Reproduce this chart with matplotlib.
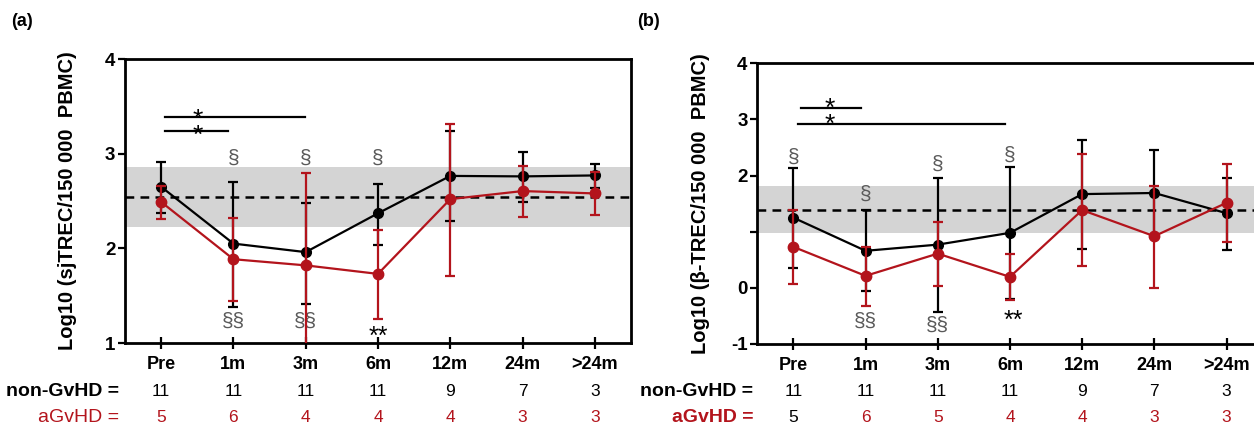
import matplotlib
matplotlib.use("Agg")
import matplotlib.pyplot as plt
import matplotlib.transforms as mtransforms

plt.rcParams['font.family'] = ['Liberation Sans', 'DejaVu Sans']

categories = ["Pre", "1m", "3m", "6m", "12m", "24m", ">24m"]

# Panel (a): sjTREC
a_non_mean = [2.65, 2.05, 1.96, 2.37, 2.765, 2.76, 2.77]
a_non_hi = [2.91, 2.70, 2.48, 2.68, 3.24, 3.015, 2.89]
a_non_lo = [2.37, 1.385, 1.41, 2.04, 2.29, 2.49, 2.64]
a_agv_mean = [2.49, 1.885, 1.82, 1.73, 2.52, 2.605, 2.58]
a_agv_hi = [2.66, 2.32, 2.80, 2.19, 3.31, 2.87, 2.81]
a_agv_lo = [2.31, 1.44, 0.80, 1.25, 1.71, 2.33, 2.35]
a_band = (2.226, 2.86)
a_ref = 2.54
a_n_non = [11, 11, 11, 11, 9, 7, 3]
a_n_agv = [5, 6, 4, 4, 4, 3, 3]

# Panel (b): beta-TREC
b_non_mean = [1.25, 0.66, 0.77, 0.98, 1.67, 1.69, 1.33]
b_non_hi = [2.13, 1.385, 1.95, 2.146, 2.63, 2.455, 1.96]
b_non_lo = [0.35, -0.05, -0.43, -0.20, 0.69, 0.92, 0.67]
b_agv_mean = [0.73, 0.214, 0.61, 0.196, 1.385, 0.92, 1.515]
b_agv_hi = [1.385, 0.73, 1.18, 0.595, 2.38, 1.81, 2.20]
b_agv_lo = [0.06, -0.32, 0.035, -0.21, 0.39, 0.0, 0.81]
b_band = (0.97, 1.81)
b_ref = 1.39
b_n_non = [11, 11, 11, 11, 9, 7, 3]
b_n_agv = [5, 6, 5, 4, 4, 3, 3]

RED = '#B3141C'
GRAY_SYM = '#5a5a5a'

fig = plt.figure(figsize=(12.54, 4.29), dpi=100)
W, H = 1254, 429

def px_axes(left, right, top, bottom):
    return fig.add_axes([left / W, (H - bottom) / H, (right - left) / W, (bottom - top) / H])

ax_a = px_axes(125, 631, 59, 343)
ax_b = px_axes(757.3, 1262.6, 63.3, 344)

def draw_panel(ax, non_mean, non_lo, non_hi, agv_mean, agv_lo, agv_hi, band, ref, ylim, yticks, yticklabels, ylabel):
    x = list(range(len(categories)))
    ax.axhspan(band[0], band[1], color='#d4d4d4', zorder=0, lw=0)
    ax.axhline(ref, color='black', ls=(0, (3.5, 2.5)), lw=1.8, zorder=1)
    e1 = [[m - l for m, l in zip(non_mean, non_lo)], [h - m for m, h in zip(non_mean, non_hi)]]
    e2 = [[m - l for m, l in zip(agv_mean, agv_lo)], [h - m for m, h in zip(agv_mean, agv_hi)]]
    ax.errorbar(x, non_mean, yerr=e1, color='black', marker='o', ms=7, lw=1.6,
                elinewidth=1.6, capsize=3.5, capthick=1.6, zorder=3)
    ax.errorbar(x, agv_mean, yerr=e2, color=RED, marker='o', ms=7.5, lw=1.6,
                elinewidth=1.6, capsize=3.5, capthick=1.6, zorder=4)
    ax.set_xlim(-0.5, 6.5)
    ax.set_ylim(*ylim)
    ax.set_xticks(x)
    ax.set_xticklabels(categories, fontsize=13, fontweight='bold')
    ax.set_yticks(yticks)
    ax.set_yticklabels(yticklabels, fontsize=13.5, fontweight='bold')
    ax.tick_params(axis='x', direction='inout', length=9, width=1.6, pad=5)
    ax.tick_params(axis='y', direction='out', length=5, width=1.6, pad=2)
    for s in ax.spines.values():
        s.set_linewidth(2.0)
    ax.set_ylabel(ylabel, fontsize=14.5, fontweight='bold')
    ax.yaxis.set_label_coords(-0.094, 0.5)

draw_panel(ax_a, a_non_mean, a_non_lo, a_non_hi, a_agv_mean, a_agv_lo, a_agv_hi,
           a_band, a_ref, (1, 4), [1, 2, 3, 4], ['1', '2', '3', '4'],
           'Log10 (sjTREC/150 000  PBMC)')
draw_panel(ax_b, b_non_mean, b_non_lo, b_non_hi, b_agv_mean, b_agv_lo, b_agv_hi,
           b_band, b_ref, (-1, 4), [-1, 0, 1, 2, 3, 4], ['-1', '0', '', '2', '3', '4'],
           'Log10 (β-TREC/150 000  PBMC)')

# Annotations panel (a)
ax_a.plot([0.06, 1.995], [3.39, 3.39], color='black', lw=1.6)
ax_a.plot([0.06, 0.92], [3.24, 3.24], color='black', lw=1.6)
ax_a.text(0.51, 3.116, '*\n*', ha='center', va='baseline', fontsize=19, linespacing=0.56)
for xi in [1, 2, 3]:
    ax_a.text(xi, 2.95, '§', ha='center', va='center', fontsize=15, color=GRAY_SYM)
for xi in [1, 2]:
    ax_a.text(xi, 1.23, '§§', ha='center', va='center', fontsize=15, color=GRAY_SYM)
ax_a.text(3.0, 1.07, '**', ha='center', va='center', fontsize=18, color='black')

# Annotations panel (b)
ax_b.plot([0.1, 0.93], [3.21, 3.21], color='black', lw=1.6)
ax_b.plot([0.07, 2.93], [2.91, 2.91], color='black', lw=1.6)
ax_b.text(0.51, 2.78, '*\n*', ha='center', va='baseline', fontsize=19, linespacing=0.58)
for xi, yv in [(0, 2.33), (1, 1.67), (2, 2.2), (3, 2.36)]:
    ax_b.text(xi, yv, '§', ha='center', va='center', fontsize=15, color=GRAY_SYM)
for xi, yv in [(1, -0.59), (2, -0.66)]:
    ax_b.text(xi, yv, '§§', ha='center', va='center', fontsize=15, color=GRAY_SYM)
ax_b.text(3.05, -0.58, '**', ha='center', va='center', fontsize=18, color='black')

# Count tables
def table(ax, n_non, n_agv, label_x_px, agv_bold, first_black):
    tr = mtransforms.blended_transform_factory(ax.transData, fig.transFigure)
    y1 = (H - 392) / H
    y2 = (H - 418) / H
    fig.text(label_x_px / W, y1, 'non-GvHD =', ha='right', va='center', fontsize=14, fontweight='bold', color='black')
    fig.text(label_x_px / W, y2, 'aGvHD =', ha='right', va='center', fontsize=14,
             fontweight='bold' if agv_bold else 'normal', color=RED)
    for i, (n1, n2) in enumerate(zip(n_non, n_agv)):
        ax.text(i, y1, str(n1), transform=tr, ha='center', va='center', fontsize=12.5, color='black')
        c = 'black' if (first_black and i == 0) else RED
        ax.text(i, y2, str(n2), transform=tr, ha='center', va='center', fontsize=12.5, color=c)

table(ax_a, a_n_non, a_n_agv, 119, False, False)
table(ax_b, b_n_non, b_n_agv, 753, True, True)

fig.text(22 / W, (H - 22) / H, '(a)', ha='center', va='center', fontsize=13, fontweight='bold')
fig.text(648 / W, (H - 22) / H, '(b)', ha='center', va='center', fontsize=13, fontweight='bold')

fig.savefig('out.png', dpi=100)
